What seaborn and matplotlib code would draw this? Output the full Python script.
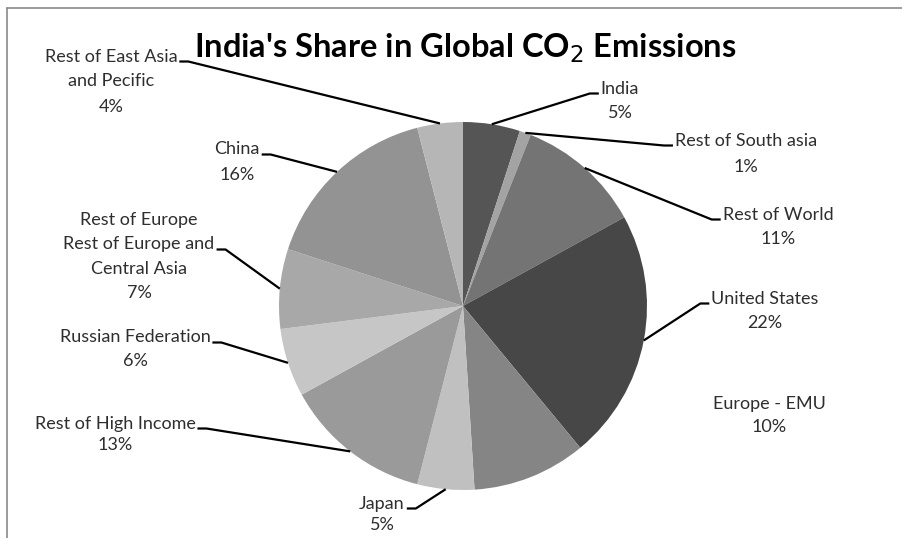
import matplotlib
matplotlib.use("Agg")
import matplotlib.pyplot as plt
import seaborn as sns
import numpy as np

# ---- data ----
categories = ["India", "Rest of South asia", "Rest of World", "United States",
              "Europe - EMU", "Japan", "Rest of High Income", "Russian Federation",
              "Rest of Europe and Central Asia", "China", "Rest of East Asia and Pecific"]
shares = [5, 1, 11, 22, 10, 5, 13, 6, 7, 16, 4]
label_texts = ["India\n5%", "Rest of South asia\n1%", "Rest of World\n11%",
               "United States\n22%", "Europe - EMU\n10%", "Japan\n5%",
               "Rest of High Income\n13%", "Russian Federation\n6%",
               "Rest of Europe\nRest of Europe and\nCentral Asia\n7%", "China\n16%",
               "Rest of East Asia\nand Pecific\n4%"]
colors = ["#555555", "#a3a3a3", "#747474", "#474747", "#858585", "#c0c0c0",
          "#9a9a9a", "#c6c6c6", "#a8a8a8", "#939393", "#b6b6b6"]

# ---- layout (pixel positions, y measured from top) ----
W, H = 902, 538
center_px = (463, 306)
radius_px = 184
# label centre x, centre y of first line
label_pos = [(620, 87), (746, 139), (778, 213), (765, 297), (769, 403), (382, 502),
             (115, 422), (135, 336), (139, 219), (237, 148), (111, 55)]
line_gap = [25, 26, 24, 25, 22, 21, 21, 24, 24, 25, 25]
# which line the leader attaches to, and on which side (-1 left, +1 right, 0 none)
leader_line = [0, 0, 0, 0, 0, 0, 0, 0, 1, 0, 0]
leader_side = [-1, -1, -1, -1, 0, 1, 1, 1, 1, 1, 1]

sns.set_theme(style="white")
plt.rcParams['font.family'] = ['Lato', 'DejaVu Sans']

fig = plt.figure(figsize=(W / 100, H / 100), dpi=100)
ax = fig.add_axes([0, 0, 1, 1])

cx, cy = center_px[0], H - center_px[1]
wedges, _ = ax.pie(shares, colors=colors, startangle=90, counterclock=False,
                   center=(cx, cy), radius=radius_px, frame=True,
                   wedgeprops=dict(linewidth=0))
ax.set_xlim(0, W)
ax.set_ylim(0, H)
ax.set_aspect("equal")
ax.axis("off")

# labels: each line placed individually
text_objs = []
for txt, (lx, ly), gap in zip(label_texts, label_pos, line_gap):
    objs = []
    for i, line in enumerate(txt.split("\n")):
        t = ax.text(lx, H - (ly + i * gap), line, ha="center", va="center_baseline",
                    fontsize=13, color="#2e2e2e")
        objs.append(t)
    text_objs.append(objs)

fig.canvas.draw()
renderer = fig.canvas.get_renderer()
inv = ax.transData.inverted()

# leader lines from label end to mid-angle of each wedge
for w, objs, li, side in zip(wedges, text_objs, leader_line, leader_side):
    if side == 0:
        continue
    bb = objs[li].get_window_extent(renderer)
    (x0, y0), (x1, y1) = inv.transform([[bb.x0, bb.y0], [bb.x1, bb.y1]])
    sy = y0 + 3
    sx = x1 + 2 if side > 0 else x0 - 2
    hx = sx + 9 * side
    mid = np.deg2rad((w.theta1 + w.theta2) / 2)
    ex = cx + radius_px * np.cos(mid)
    ey = cy + radius_px * np.sin(mid)
    ax.plot([sx, hx, ex], [sy, sy, ey], color="black", lw=1.6,
            solid_capstyle="butt", solid_joinstyle="round")

# title
ax.text(465, H - 48, "India's Share in Global CO$_2$ Emissions", ha="center",
        va="center", fontsize=23.5, fontweight="bold", color="black")

# chart frame (left and top edges)
ax.plot([7, 7], [0, H - 8], color="#8a8a8a", lw=1.2)
ax.plot([7, W], [H - 8, H - 8], color="#8a8a8a", lw=1.2)

fig.savefig("out.png", dpi=100)
